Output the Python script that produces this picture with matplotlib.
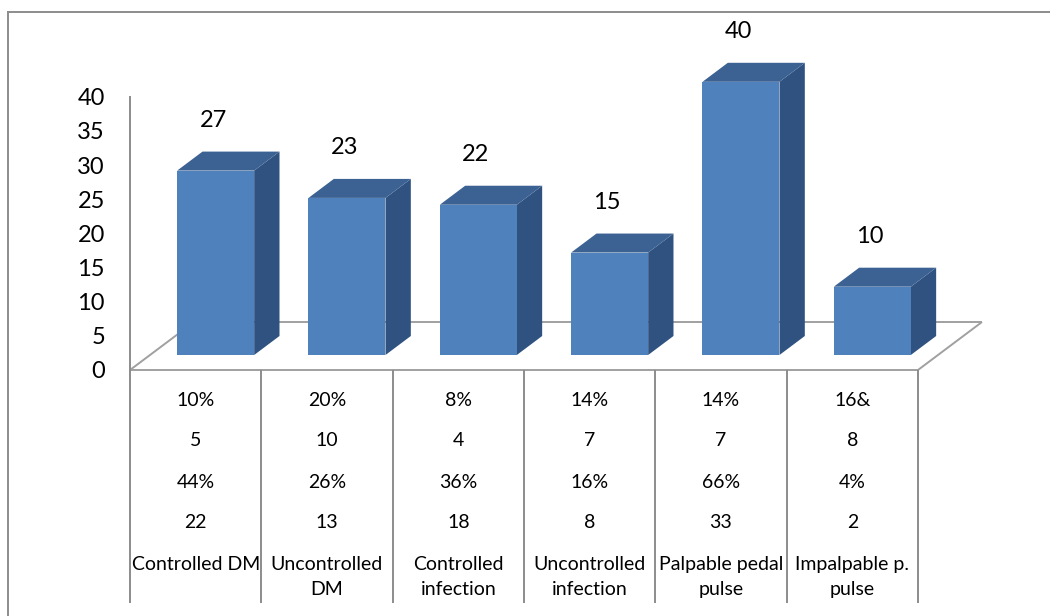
import matplotlib
matplotlib.use("Agg")
import matplotlib.pyplot as plt
from matplotlib.patches import Polygon
from matplotlib.lines import Line2D

# ---------------- data ----------------
categories = ["Controlled DM", "Uncontrolled\nDM", "Controlled\ninfection",
              "Uncontrolled\ninfection", "Palpable pedal\npulse", "Impalpable p.\npulse"]
values = [27, 23, 22, 15, 40, 10]
row_pct1 = ["10%", "20%", "8%", "14%", "14%", "16&"]
row_n1 = ["5", "10", "4", "7", "7", "8"]
row_pct2 = ["44%", "26%", "36%", "16%", "66%", "4%"]
row_n2 = ["22", "13", "18", "8", "33", "2"]
yticks = [0, 5, 10, 15, 20, 25, 30, 35, 40]

# ---------------- style / layout ----------------
plt.rcParams["font.family"] = ["Lato", "DejaVu Sans"]
W, H = 1050, 616
FRONT = "#4F81BD"
TOP = "#3C6293"
SIDE = "#2F5281"
GRID = "#8C8C8C"

fig = plt.figure(figsize=(W / 100, H / 100), dpi=100)
ax = fig.add_axes([0, 0, 1, 1])

# pixel geometry of the plotting frame
x0_px, col_px = 130.0, 131.33      # left of category -0.5, column width
y0_px, unit_px = 370.0, 6.83       # pixel of value 0, pixels per unit
ax.set_xlim(-0.5 - x0_px / col_px, -0.5 + (W - x0_px) / col_px)
ax.set_ylim((y0_px - H) / unit_px, y0_px / unit_px)

def py2v(py):
    return (y0_px - py) / unit_px

n = len(values)
DX = 64 / col_px      # floor depth in x data units
DY = 48 / unit_px     # floor depth in y data units
f0, f1 = 15 / 48, 34 / 48   # bar depth span
bw = 77 / col_px

# floor
xl, xr = -0.5, n - 0.5
floor_kw = dict(color="#A0A0A0", lw=1.4, zorder=1, solid_capstyle="butt")
ax.plot([xl + DX, xr + DX], [DY, DY], **floor_kw)
ax.plot([xr, xr + DX], [0, DY], **floor_kw)
ax.plot([xl, xl + DX], [0, DY], **floor_kw)
ax.plot([xl, xr], [0, 0], **floor_kw)

# bars
for i, v in enumerate(values):
    xf = i - bw / 2 + f0 * DX
    yb = f0 * DY
    ddx = (f1 - f0) * DX
    ddy = (f1 - f0) * DY
    front = [(xf, yb), (xf + bw, yb), (xf + bw, yb + v), (xf, yb + v)]
    side = [(xf + bw, yb), (xf + bw + ddx, yb + ddy), (xf + bw + ddx, yb + v + ddy), (xf + bw, yb + v)]
    top = [(xf, yb + v), (xf + bw, yb + v), (xf + bw + ddx, yb + v + ddy), (xf + ddx, yb + v + ddy)]
    ax.add_patch(Polygon(side, closed=True, facecolor=SIDE, edgecolor="none", zorder=3))
    ax.add_patch(Polygon(top, closed=True, facecolor=TOP, edgecolor="none", zorder=3))
    ax.add_patch(Polygon(front, closed=True, facecolor=FRONT, edgecolor="none", zorder=4))
    ax.text(xf + bw / 2 - 0.02, yb + v + 50 / unit_px, str(v), ha="center", va="center",
            fontsize=17, color="black", zorder=5)

# y axis
for s in ["top", "right", "bottom"]:
    ax.spines[s].set_visible(False)
ax.spines["left"].set_position(("data", -0.5))
ax.spines["left"].set_bounds(0, 40)
ax.spines["left"].set_color(GRID)
ax.spines["left"].set_linewidth(1.4)
ax.set_yticks(yticks)
ax.set_yticklabels([str(t) for t in yticks])
ax.tick_params(axis="y", length=0, pad=18, labelsize=17)
ax.set_xticks([])
ax.patch.set_alpha(0)

# data table
ax.vlines([k - 0.5 for k in range(n + 1)], py2v(603), 0, colors=GRID, lw=1.4, zorder=2)
rows = [row_pct1, row_n1, row_pct2, row_n2]
row_py = [400, 441, 482, 523]
for r, py in zip(rows, row_py):
    for i, t in enumerate(r):
        ax.text(i, py2v(py), t, ha="center", va="center", fontsize=14)
for i, c in enumerate(categories):
    ax.text(i, py2v(556), c, ha="center", va="top", fontsize=14, linespacing=1.55)

# outer frame (partially cropped)
fig.add_artist(Line2D([8 / W, 1.0], [1 - 12 / H, 1 - 12 / H], color=GRID, lw=1.4))
fig.add_artist(Line2D([8 / W, 8 / W], [0, 1 - 12 / H], color=GRID, lw=1.4))

fig.savefig("out.png", dpi=100)
